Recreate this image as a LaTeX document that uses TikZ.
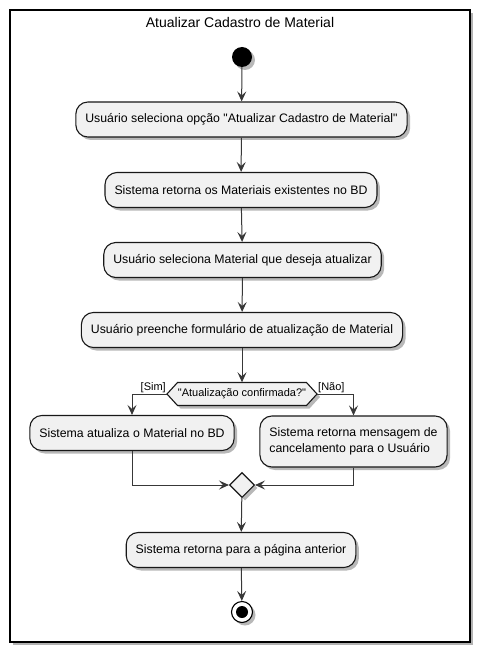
\documentclass[tikz,border=0pt]{standalone}
\usepackage{fontspec}
\setmainfont{Liberation Sans}[Ligatures=TeXOff]
\usetikzlibrary{arrows.meta,shapes.geometric,shadows}
\definecolor{bd}{HTML}{181818}
\definecolor{bx}{HTML}{F1F1F1}
\definecolor{ln}{HTML}{383838}
\tikzset{
  shd/.style={drop shadow={shadow xshift=3pt, shadow yshift=-3pt, opacity=0.28, fill=black}},
  act/.style={draw=bd, fill=bx, line width=1.1pt, rounded corners=12pt, minimum height=35pt, inner xsep=9.5pt, font=\fontsize{12.3}{15.5}\selectfont, shd},
  flow/.style={draw=ln, line width=1pt, -{Stealth[length=10pt,width=9pt,inset=4pt]}},
  lbl/.style={font=\fontsize{11}{13}\selectfont, inner sep=1pt},
}
\begin{document}
\begin{tikzpicture}[x=1pt,y=-1pt]
\useasboundingbox[fill=white] (0,0) rectangle (479,652);
% frame
\fill[black!30] (13,13) rectangle (473,645);
\draw[fill=white, line width=1.6pt, draw=black] (10,10) rectangle (470,642);
\node[font=\fontsize{14}{16}\selectfont] (title) at (240,22) {Atualizar Cadastro de Material};
% nodes
\node[circle, fill=black, minimum size=20pt, inner sep=0pt, shd] (start) at (242,57) {};
\node[act] (b1) at (241.5,119.5) {Usuário seleciona opção "Atualizar Cadastro de Material"};
\node[act] (b2) at (241,190) {Sistema retorna os Materiais existentes no BD};
\node[act] (b3) at (242.5,260) {Usuário seleciona Material que deseja atualizar};
\node[act] (b4) at (242,330) {Usuário preenche formulário de atualização de Material};
% decision hexagon
\path[draw=bd, fill=bx, line width=1.1pt, shd] (177.5,382.5) -- (306.5,382.5) -- (317,394) -- (306.5,405.5) -- (177.5,405.5) -- (167,394) -- cycle;
\coordinate (hexW) at (167,394);
\coordinate (hexE) at (317,394);
\node[font=\fontsize{11}{13}\selectfont, minimum width=129pt, minimum height=23pt, inner sep=0pt] (hex) at (242,394) {"Atualização confirmada?"};
\node[act] (sim) at (132,433) {Sistema atualiza o Material no BD};
\node[act, minimum height=51pt, align=left] (nao) at (353.5,441.5) {Sistema retorna mensagem de\\cancelamento para o Usuário};
\node[diamond, draw=bd, fill=bx, line width=1.1pt, minimum size=25pt, inner sep=0pt, shd] (merge) at (242,485) {};
\node[act] (fin) at (241,550) {Sistema retorna para a página anterior};
\node[circle, draw=black, fill=white, line width=1.1pt, minimum size=21pt, inner sep=0pt, shd,
      path picture={\fill[black] (path picture bounding box.center) circle (6pt);}] (end) at (242,612) {};
% labels
\node[lbl, anchor=south east] (lsim) at (hexW) {[Sim]};
\node[lbl, anchor=south west] (lnao) at (hexE) {[Não]};
% connectors
\draw[flow] (start) -- (b1);
\draw[flow] (b1) -- (b2);
\draw[flow] (b2) -- (b3);
\draw[flow] (b3) -- (b4);
\draw[flow] (b4) -- (hex.north);
\draw[flow] (hexW) -| (sim.north);
\draw[flow] (hexE) -| (nao.north);
\draw[flow] (sim.south) |- (merge.west);
\draw[flow] (nao.south) |- (merge.east);
\draw[flow] (merge) -- (fin);
\draw[flow] (fin) -- (end);
\end{tikzpicture}
\end{document}
